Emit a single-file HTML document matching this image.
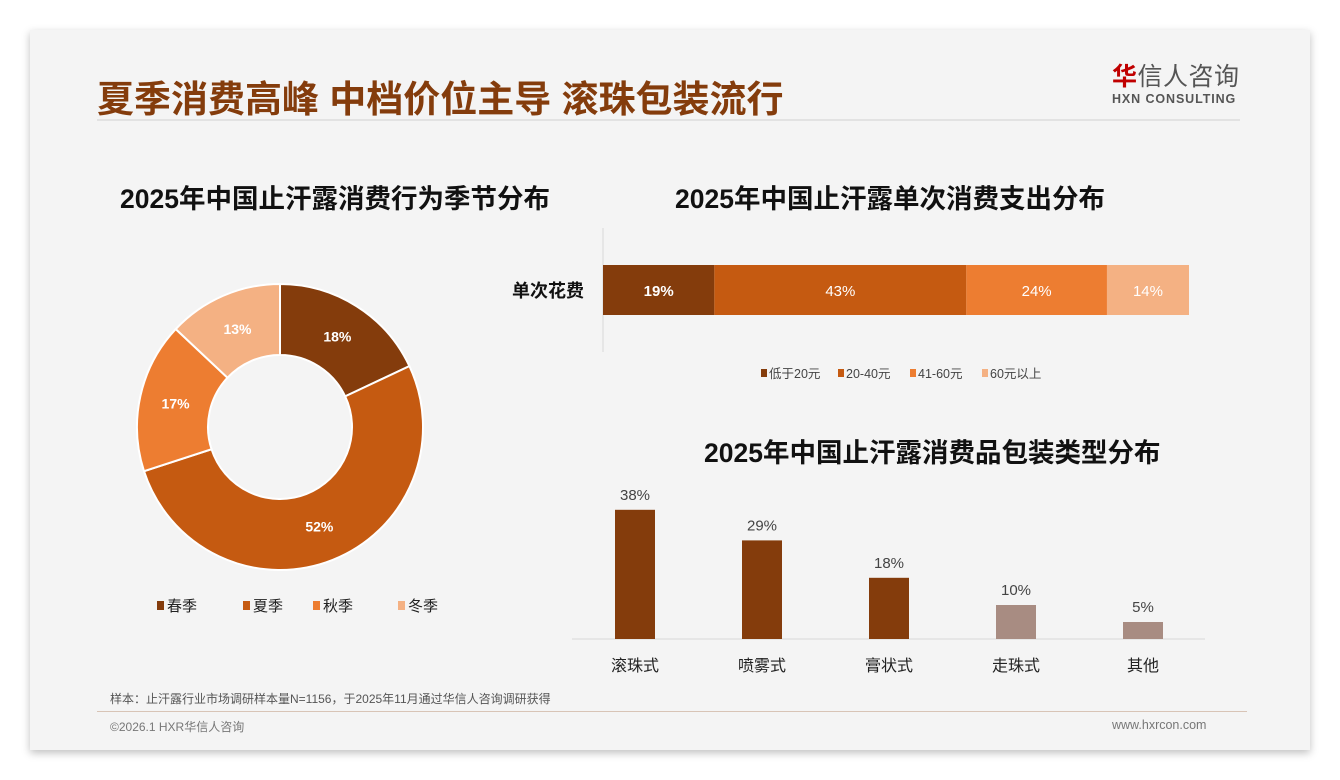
<!DOCTYPE html>
<html><head><meta charset="utf-8"><style>
body{margin:0;width:1340px;height:780px;background:#fff;font-family:"Liberation Sans","Noto Sans CJK SC",sans-serif;position:relative;overflow:hidden}
.card{position:absolute;left:30px;top:30px;width:1280px;height:720px;background:#f4f4f4;box-shadow:0 3px 8px rgba(0,0,0,.25)}
.abs{position:absolute}
</style></head><body>
<div class="card"></div>
<div class="abs" style="left:97px;top:69px;font-size:37px;font-weight:bold;color:#843c0c">夏季消费高峰 中档价位主导 滚珠包装流行</div>
<div class="abs" style="left:1112px;top:62px;text-align:left">
 <div style="font-size:25px;color:#555;line-height:30px;letter-spacing:0.5px"><span style="color:#c00000;font-weight:bold">华</span>信人咨询</div>
 <div style="font-size:12.5px;color:#555;font-weight:bold;letter-spacing:0.9px">HXN CONSULTING</div>
</div>
<div class="abs" style="left:97px;top:119px;width:1143px;height:2px;background:#e2e2e2"></div>
<div class="abs" style="left:120px;top:177px;font-size:26.5px;font-weight:bold;color:#111">2025年中国止汗露消费行为季节分布</div>
<div class="abs" style="left:675px;top:177px;font-size:26.5px;font-weight:bold;color:#111">2025年中国止汗露单次消费支出分布</div>
<div class="abs" style="left:704px;top:431px;font-size:26.5px;font-weight:bold;color:#111">2025年中国止汗露消费品包装类型分布</div>
<svg class="abs" style="left:0;top:0" width="1340" height="780" id="chart"></svg>
<div class="abs" style="left:110px;top:690px;font-size:12px;color:#555">样本：止汗露行业市场调研样本量N=1156，于2025年11月通过华信人咨询调研获得</div>
<div class="abs" style="left:97px;top:711px;width:1150px;height:1px;background:#d8c4b6"></div>
<div class="abs" style="left:110px;top:718px;font-size:12px;color:#777">©2026.1 HXR华信人咨询</div>
<div class="abs" style="left:1112px;top:718px;font-size:12.5px;color:#777">www.hxrcon.com</div>
<script>
const seasons=['春季','夏季','秋季','冬季'];
const seasonVals=[18,52,17,13];
const spendCats=['低于20元','20-40元','41-60元','60元以上'];
const spendVals=[19,43,24,14];
const packCats=['滚珠式','喷雾式','膏状式','走珠式','其他'];
const packVals=[38,29,18,10,5];
const NS='http://www.w3.org/2000/svg';
const svg=document.getElementById('chart');
function mk(t,a,p){const e=document.createElementNS(NS,t);for(const k in a)e.setAttribute(k,a[k]);(p||svg).appendChild(e);return e;}
const seasonColors=['#843c0c','#c55a11','#ed7d31','#f4b183'];
const cx=280,cy=427,R=143,r=72;
let tot=seasonVals.reduce((a,b)=>a+b,0),acc=0;
seasonVals.forEach((v,i)=>{
 const a0=acc/tot*2*Math.PI,a1=(acc+v)/tot*2*Math.PI;acc+=v;
 const p=(a,rr)=>[cx+rr*Math.sin(a),cy-rr*Math.cos(a)];
 const [x0,y0]=p(a0,R),[x1,y1]=p(a1,R),[x2,y2]=p(a1,r),[x3,y3]=p(a0,r);
 const lg=(a1-a0)>Math.PI?1:0;
 const s=mk('path',{d:`M${x0},${y0}A${R},${R} 0 ${lg} 1 ${x1},${y1}L${x2},${y2}A${r},${r} 0 ${lg} 0 ${x3},${y3}Z`,fill:seasonColors[i],stroke:'#fff','stroke-width':2});
 
 
 const [lx,ly]=p((a0+a1)/2,107);
 const t=mk('text',{x:lx,y:ly+5,'text-anchor':'middle','font-size':14,'font-weight':'bold',fill:'#fff'});t.textContent=v+'%';
 
 
});
const lgX=[157,243,313,398];
seasons.forEach((s,i)=>{
 const g=mk('g',{});
 
 
 mk('rect',{x:lgX[i],y:601,width:7,height:9,fill:seasonColors[i]},g);
 const t=mk('text',{x:lgX[i]+10,y:611,'font-size':15,fill:'#222'},g);t.textContent=s;
});
const bx0=603,bw=586,by=265,bh=50;
mk('line',{x1:bx0,y1:228,x2:bx0,y2:352,stroke:'#d9d9d9'});
const lb=mk('text',{x:584,y:297,'text-anchor':'end','font-size':18,'font-weight':'bold',fill:'#111'});lb.textContent='单次花费';
let sTot=spendVals.reduce((a,b)=>a+b,0),sx=bx0;
spendVals.forEach((v,i)=>{
 const w=v/sTot*bw;
 const rc=mk('rect',{x:sx,y:by,width:w,height:bh,fill:seasonColors[i]});
 
 
 const t=mk('text',{x:sx+w/2,y:by+31,'text-anchor':'middle','font-size':15,'font-weight':i==0?'bold':'normal',fill:'#fff'});t.textContent=v+'%';
 sx+=w;
});
const slX=[761,838,910,982];
spendCats.forEach((s,i)=>{
 const g=mk('g',{});
 
 
 mk('rect',{x:slX[i],y:369,width:6,height:8,fill:seasonColors[i]},g);
 const t=mk('text',{x:slX[i]+8,y:378,'font-size':12.5,fill:'#444'},g);t.textContent=s;
});
const base=639,scale=3.4,colW=40,c0=635,step=127;
mk('line',{x1:572,y1:base,x2:1205,y2:base,stroke:'#d9d9d9'});
packVals.forEach((v,i)=>{
 const x=c0+i*step,h=v*scale;
 const rc=mk('rect',{x:x-colW/2,y:base-h,width:colW,height:h,fill:i<3?'#843c0c':'#a88c82'});
 
 
 const t=mk('text',{x:x,y:base-h-10,'text-anchor':'middle','font-size':15,fill:'#444'});t.textContent=v+'%';
 const c=mk('text',{x:x,y:671,'text-anchor':'middle','font-size':16,fill:'#222'});c.textContent=packCats[i];
});
</script>
</body></html>
